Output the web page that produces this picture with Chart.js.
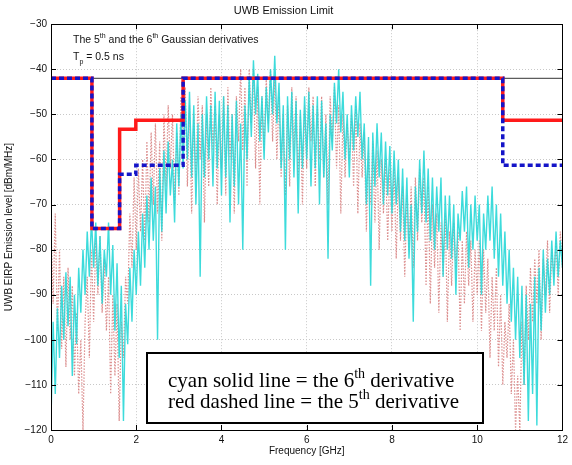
<!DOCTYPE html>
<html>
<head>
<meta charset="utf-8">
<title>UWB Emission Limit</title>
<script src="https://cdn.jsdelivr.net/npm/chart.js@4.4.1/dist/chart.umd.min.js"></script>
<style>
  html, body { margin: 0; padding: 0; background: #fff; }
  #grafico { display: block; }
</style>
</head>
<body>
<canvas id="grafico" width="572" height="465"></canvas>
<script>
// passo em frequencia dos espectros (GHz), comecando em 0
const passoFreq = 0.05;

// espectro do 6o derivado gaussiano (dBm/MHz)
const espectro6 = [
  -118, -96, -112, -93, -104, -88, -100, -85, -97, -86, -108, -90, -101, -84, -94, -80, -90, -76, -86, -73,
  -84, -74, -88, -77, -92, -80, -86, -74, -90, -79, -98, -83, -104, -88, -118, -92, -101, -84, -96, -80,
  -90, -76, -88, -72, -84, -68, -80, -64, -78, -66, -100, -62, -76, -58, -72, -56, -68, -60, -74, -52,
  -66, -50, -62, -47, -60, -45, -64, -48, -70, -52, -86, -50, -64, -46, -60, -48, -66, -45, -62, -47,
  -68, -46, -64, -48, -74, -50, -66, -47, -70, -52, -80, -48, -60, -42, -55, -38, -50, -41, -56, -46,
  -60, -44, -54, -40, -50, -37, -52, -43, -62, -48, -80, -46, -60, -45, -64, -47, -72, -49, -62, -46,
  -60, -45, -66, -48, -62, -46, -70, -47, -64, -52, -82, -50, -58, -43, -52, -40, -54, -45, -60, -50,
  -64, -48, -58, -46, -55, -45, -60, -52, -70, -55, -88, -54, -66, -52, -64, -54, -70, -56, -68, -57,
  -72, -58, -70, -60, -76, -62, -78, -64, -82, -70, -96, -66, -76, -60, -72, -58, -74, -62, -78, -64,
  -80, -66, -76, -64, -86, -68, -80, -68, -82, -70, -90, -72, -78, -67, -76, -66, -84, -70, -80, -68,
  -78, -70, -90, -72, -80, -68, -78, -66, -82, -70, -86, -72, -88, -76, -92, -80, -96, -84, -100, -86,
  -104, -88, -110, -90, -118, -92, -112, -86, -119, -84, -98, -80, -94, -82, -90, -78, -88, -76, -86, -78,
  -84
];

// espectro do 5o derivado gaussiano (dBm/MHz)
const espectro5 = [
  -74, -92, -72, -98, -80, -102, -86, -106, -84, -100, -88, -108, -94, -112, -100, -120, -96, -86, -104, -80,
  -96, -78, -90, -77, -94, -82, -98, -86, -112, -90, -108, -92, -118, -96, -104, -86, -92, -72, -84, -64,
  -80, -62, -76, -60, -78, -56, -74, -54, -70, -52, -72, -56, -78, -50, -66, -48, -62, -50, -70, -54,
  -68, -46, -58, -44, -66, -48, -72, -50, -64, -46, -60, -48, -74, -50, -66, -44, -58, -48, -70, -50,
  -62, -46, -68, -44, -60, -50, -72, -46, -56, -40, -58, -44, -66, -40, -52, -40, -62, -44, -70, -46,
  -58, -42, -52, -40, -56, -42, -60, -46, -64, -50, -68, -48, -66, -44, -58, -46, -64, -50, -70, -48,
  -62, -44, -56, -46, -66, -48, -60, -46, -64, -50, -70, -46, -56, -44, -62, -48, -72, -50, -64, -52,
  -60, -50, -66, -48, -72, -52, -64, -54, -76, -58, -70, -56, -74, -58, -80, -60, -72, -60, -78, -62,
  -76, -62, -82, -64, -78, -66, -86, -68, -80, -66, -84, -64, -78, -62, -74, -64, -88, -66, -92, -70,
  -84, -72, -94, -74, -86, -72, -96, -76, -88, -74, -84, -76, -98, -78, -92, -76, -88, -78, -96, -80,
  -90, -78, -98, -80, -94, -82, -104, -86, -98, -84, -106, -90, -110, -96, -104, -92, -112, -100, -120, -108,
  -120, -96, -110, -88, -100, -84, -96, -82, -92, -80, -100, -82, -90, -78, -94, -80, -86, -78, -90, -76,
  -84
];

// mascaras FCC: frequencias de quebra e niveis
const freqMascara = [0, 0.96, 1.61, 1.99, 3.1, 10.6, 12];
const mascaraIndoor = [-42, -75.3, -53.3, -51.3, -42, -51.3, -51.3];
const mascaraOutdoor = [-42, -75.3, -63.3, -61.3, -42, -61.3, -61.3];
const nivelReferencia = -42;

const ticksX = [0, 2, 4, 6, 8, 10, 12];
const ticksY = [-120, -110, -100, -90, -80, -70, -60, -50, -40, -30];

function pontosEspectro(valores) {
    return valores.map((v, i) => ({ x: Math.round(i * passoFreq * 100) / 100, y: v }));
}

function pontosMascara(niveis) {
    return freqMascara.map((f, i) => ({ x: f, y: niveis[i] }));
}

// escreve texto com pedacos sobrescritos (1) ou subscritos (-1)
function escreverPedacos(ctx, pedacos, x, y, tam, familia) {
    pedacos.forEach(([txt, modo]) => {
        let t = modo === 0 ? tam : Math.round(tam * 0.65);
        let dy = modo === 1 ? -tam * 0.45 : (modo === -1 ? tam * 0.35 : 0);
        ctx.font = t + 'px ' + familia;
        ctx.fillText(txt, x, y + dy);
        x += ctx.measureText(txt).width;
    });
}

const fonteSans = '"Liberation Sans", Arial, sans-serif';
const fonteSerif = '"Liberation Serif", "Times New Roman", serif';

// caixa do grafico, marcas de escala e anotacoes
const extras = {
    id: 'extras',
    afterDatasetsDraw(chart) {
        const ctx = chart.ctx;
        const a = chart.chartArea;
        const sx = chart.scales.x, sy = chart.scales.y;
        ctx.save();
        ctx.strokeStyle = '#000';
        ctx.lineWidth = 1;
        ctx.strokeRect(Math.round(a.left) + 0.5, Math.round(a.top) + 0.5,
            Math.round(a.right - a.left), Math.round(a.bottom - a.top));
        ctx.beginPath();
        ticksX.forEach(v => {
            const px = Math.round(sx.getPixelForValue(v)) + 0.5;
            ctx.moveTo(px, a.bottom); ctx.lineTo(px, a.bottom - 5);
            ctx.moveTo(px, a.top); ctx.lineTo(px, a.top + 5);
        });
        ticksY.forEach(v => {
            const py = Math.round(sy.getPixelForValue(v)) + 0.5;
            ctx.moveTo(a.left, py); ctx.lineTo(a.left + 5, py);
            ctx.moveTo(a.right, py); ctx.lineTo(a.right - 5, py);
        });
        ctx.stroke();
        ctx.restore();
    },
    afterDraw(chart) {
        const ctx = chart.ctx;
        ctx.save();
        ctx.fillStyle = '#111';
        ctx.textBaseline = 'alphabetic';
        escreverPedacos(ctx, [['The 5', 0], ['th', 1], [' and the 6', 0], ['th', 1], [' Gaussian derivatives', 0]], 73, 43, 10.5, fonteSans);
        escreverPedacos(ctx, [['T', 0], ['p', -1], [' = 0.5 ns', 0]], 73, 60, 10.5, fonteSans);

        // caixa de legenda
        ctx.fillStyle = '#fff';
        ctx.fillRect(147, 353, 336, 70);
        ctx.strokeStyle = '#000';
        ctx.lineWidth = 2;
        ctx.strokeRect(147, 353, 336, 70);
        ctx.fillStyle = '#000';
        escreverPedacos(ctx, [['cyan solid line = the 6', 0], ['th', 1], [' derivative', 0]], 168, 387, 21, fonteSerif);
        escreverPedacos(ctx, [['red dashed line = the 5', 0], ['th', 1], [' derivative', 0]], 168, 408, 21, fonteSerif);
        ctx.restore();
    }
};

const dados = {
    datasets: [
        {
            label: 'Outdoor mask',
            data: pontosMascara(mascaraOutdoor),
            stepped: true,
            borderColor: '#1414c8',
            borderWidth: 3.5,
            borderDash: [5, 3],
            pointRadius: 0
        },
        {
            label: 'Indoor mask',
            data: pontosMascara(mascaraIndoor),
            stepped: true,
            borderColor: '#ff1a1a',
            borderWidth: 3.5,
            pointRadius: 0
        },
        {
            label: 'Reference',
            data: [{ x: 0, y: nivelReferencia }, { x: 12, y: nivelReferencia }],
            borderColor: '#333',
            borderWidth: 1,
            pointRadius: 0
        },
        {
            label: '6th derivative',
            data: pontosEspectro(espectro6),
            borderColor: 'rgba(40, 215, 215, 0.9)',
            borderWidth: 1.4,
            pointRadius: 0
        },
        {
            label: '5th derivative',
            data: pontosEspectro(espectro5),
            borderColor: 'rgba(200, 80, 80, 0.65)',
            borderWidth: 1.2,
            borderDash: [1.5, 1.5],
            pointRadius: 0
        }
    ]
};

const configuracao = {
    type: 'line',
    data: dados,
    options: {
        responsive: false,
        animation: false,
        layout: { padding: { left: 0, right: 5, top: 0, bottom: 0 } },
        plugins: {
            legend: { display: false },
            tooltip: { enabled: false },
            title: {
                display: true,
                text: 'UWB Emission Limit',
                color: '#111',
                font: { family: fonteSans, size: 11, weight: 'normal' },
                padding: { top: 4, bottom: 7 }
            }
        },
        scales: {
            x: {
                type: 'linear',
                min: 0,
                max: 12,
                afterBuildTicks: s => { s.ticks = ticksX.map(v => ({ value: v })); },
                afterFit: s => { s.height = 35; },
                border: { display: false },
                grid: { color: '#c8c8c8', drawTicks: false },
                ticks: { color: '#111', padding: 4, font: { family: fonteSans, size: 10 } },
                title: {
                    display: true,
                    text: 'Frequency [GHz]',
                    color: '#111',
                    font: { family: fonteSans, size: 10 },
                    padding: { top: 0, bottom: 8 }
                }
            },
            y: {
                type: 'linear',
                min: -120,
                max: -30,
                afterBuildTicks: s => { s.ticks = ticksY.map(v => ({ value: v })); },
                afterFit: s => { s.width = 51; },
                border: { display: false },
                grid: { color: '#c8c8c8', drawTicks: false },
                ticks: {
                    color: '#111',
                    padding: 4,
                    font: { family: fonteSans, size: 10 },
                    callback: v => String(v).replace('-', '\u2212')
                },
                title: {
                    display: true,
                    text: 'UWB EIRP Emission level [dBm/MHz]',
                    color: '#111',
                    font: { family: fonteSans, size: 10 },
                    padding: { top: 3, bottom: 0 }
                }
            }
        }
    },
    plugins: [extras]
};

// grade pontilhada como no original
configuracao.options.scales.x.border.dash = [1, 2];
configuracao.options.scales.y.border.dash = [1, 2];

var meuGrafico = new Chart(document.getElementById('grafico'), configuracao);
</script>
</body>
</html>
